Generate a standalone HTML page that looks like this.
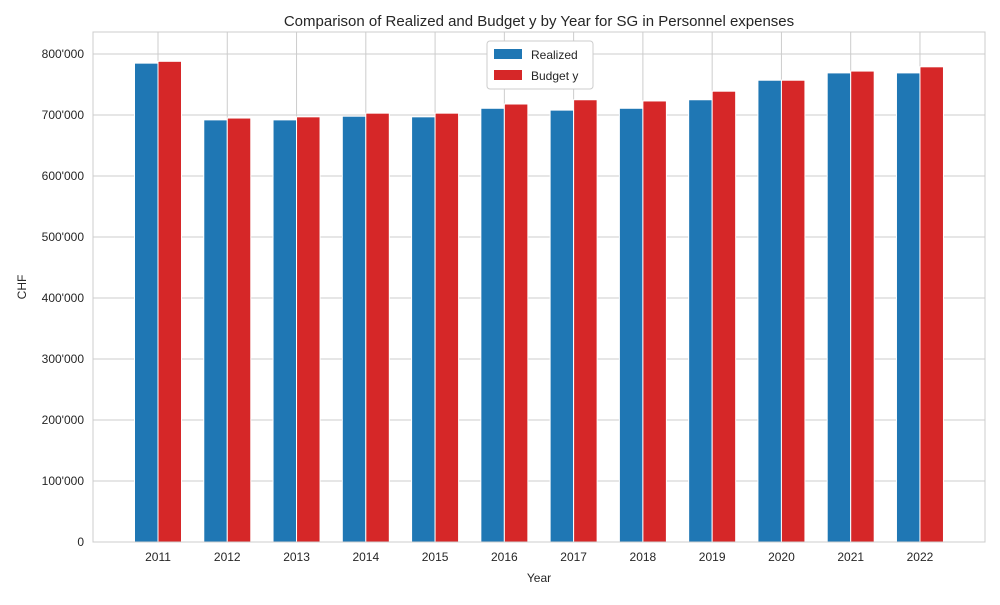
<!DOCTYPE html>
<html><head><meta charset="utf-8"><style>
body{margin:0;background:#fff}
text{font-family:"Liberation Sans",Arial,sans-serif;fill:#262626}
</style></head><body>
<svg id="chart" width="1000" height="600">
<rect width="1000" height="600" fill="#fff"/>
<g id="grid"></g><g id="bars"></g><g id="axes"></g>
<text x="539" y="26" text-anchor="middle" font-size="15">Comparison of Realized and Budget y by Year for SG in Personnel expenses</text>
<text x="539" y="582" text-anchor="middle" font-size="12">Year</text>
<text x="26" y="287" text-anchor="middle" font-size="12" transform="rotate(-90 26 287)">CHF</text>
<g>
<rect x="487" y="41" width="106" height="48" rx="3" fill="#fff" stroke="#ccc"/>
<rect x="494" y="49" width="28" height="10" fill="#1f77b4"/>
<text x="531" y="59" font-size="12">Realized</text>
<rect x="494" y="70" width="28" height="10" fill="#d62728"/>
<text x="531" y="80" font-size="12">Budget y</text>
</g>
</svg>
<script>
const years=["2011","2012","2013","2014","2015","2016","2017","2018","2019","2020","2021","2022"];
const realized=[785000,692000,692000,698000,697000,711000,708000,711000,725000,757000,769000,769000];
const budget=[788000,695000,697000,703000,703000,718000,725000,723000,739000,757000,772000,779000];
const yTicks=[0,100000,200000,300000,400000,500000,600000,700000,800000];
const NS="http://www.w3.org/2000/svg";
const L=93,R=985,T=32,B=542;
const x=i=>158+i*69.27;
const y=v=>B-v*(488/800000);
const bw=23.5;
function mk(tag,a,p){const e=document.createElementNS(NS,tag);for(const k in a)e.setAttribute(k,a[k]);p.appendChild(e);return e;}
const grid=document.getElementById('grid'),bars=document.getElementById('bars'),axes=document.getElementById('axes');
const fmt=v=>String(v).replace(/\B(?=(\d{3})+(?!\d))/g,"'");
yTicks.forEach(v=>{
 const g=mk('line',{x1:L,x2:R,y1:y(v),y2:y(v),stroke:'#ccc','stroke-width':1},grid);
 
 
 const t=mk('text',{x:L-9,y:y(v)+4,'text-anchor':'end','font-size':12},axes);
 t.textContent=fmt(v);
 
 
});
years.forEach((yr,i)=>{
 const g=mk('line',{x1:x(i),x2:x(i),y1:T,y2:B,stroke:'#ccc','stroke-width':1},grid);
 
 
 const t=mk('text',{x:x(i),y:B+19,'text-anchor':'middle','font-size':12},axes);
 t.textContent=yr;
 
 
 const r1=mk('rect',{x:x(i)-bw,y:y(realized[i]),width:bw,height:B-y(realized[i]),fill:'#1f77b4',stroke:'#fff','stroke-width':1},bars);
 
 
 const r2=mk('rect',{x:x(i),y:y(budget[i]),width:bw,height:B-y(budget[i]),fill:'#d62728',stroke:'#fff','stroke-width':1},bars);
 
 
});
const f=mk('rect',{x:L,y:T,width:R-L,height:B-T,fill:'none',stroke:'#ccc','stroke-width':1},axes);


</script>
</body></html>
